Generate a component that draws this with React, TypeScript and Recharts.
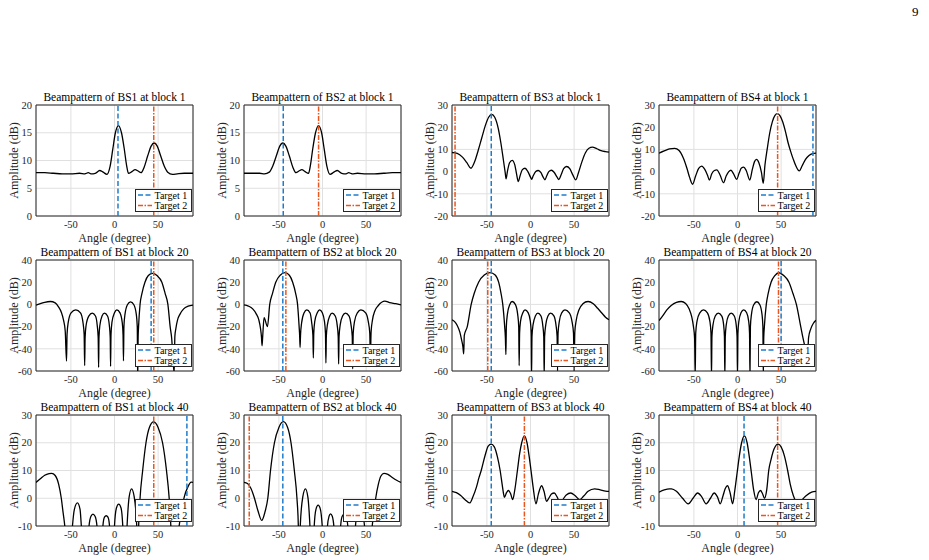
import {
  LineChart,
  Line,
  XAxis,
  YAxis,
  CartesianGrid,
  ReferenceLine,
  ReferenceArea,
  Label,
} from "recharts";

type Pt = [number, number];

const SERIF = '"Liberation Serif", "Times New Roman", serif';
const AXIS_COLOR = "#262626";
const TARGET1_COLOR = "#1f7ccb";
const TARGET2_COLOR = "#e9561f";

const angleTicks = [-50, 0, 50];
const ampTicksLow = [0, 5, 10, 15, 20];
const ampTicksWide = [-20, -10, 0, 10, 20, 30];
const ampTicksBlock20 = [-60, -40, -20, 0, 20, 40];
const ampTicksBlock40 = [-10, 0, 10, 20, 30];

// [angle (deg), amplitude (dB)]
const bs1Block1: Pt[] = [
  [-90, 7.8], [-80, 7.8], [-70, 7.7], [-60, 7.6], [-50, 7.6], [-40, 7.7], [-34, 7.6], [-30, 7.8],
  [-27, 7.6], [-22, 7.7], [-17, 8.2], [-13, 7.9], [-8.7, 7.5], [-5, 9], [-2, 12], [1, 15],
  [4.6, 16.3], [8, 15], [11, 12.3], [14, 9], [16, 7.7], [20, 8], [23.6, 8.35], [27, 8.1],
  [30.4, 7.8], [34, 8.8], [38, 10.8], [42, 12.6], [45.6, 13.15], [49, 12.6], [53, 10.8],
  [57, 9], [61, 7.9], [66.5, 7.5], [72, 7.6], [80, 7.7], [90, 7.7],
];
const bs2Block1: Pt[] = [
  [-90, 7.7], [-80, 7.7], [-72, 7.7], [-66.5, 7.6], [-61, 7.9], [-57, 9], [-53, 10.8], [-49, 12.6],
  [-45.6, 13.15], [-42, 12.6], [-38, 10.8], [-34, 8.8], [-30.4, 7.8], [-27, 8.1], [-23.6, 8.35],
  [-20, 8], [-16, 7.7], [-14, 9], [-11, 12.3], [-8, 15], [-4.6, 16.3], [-1, 15], [2, 12], [5, 9],
  [8.7, 7.5], [13, 7.9], [17, 8.2], [22, 7.7], [27, 7.6], [30, 7.8], [34, 7.6], [40, 7.7],
  [50, 7.6], [60, 7.6], [70, 7.7], [80, 7.8], [90, 7.8],
];
const bs3Block1: Pt[] = [
  [-90, 8.6], [-84, 8.2], [-78, 6.5], [-73, 4], [-68.3, 1.5], [-64, 4.5], [-60, 9.5], [-56, 15],
  [-52, 20.5], [-48, 24.5], [-44.5, 25.8], [-41, 24.5], [-37, 19.5], [-34, 13], [-31, 5],
  [-29, -0.5], [-28, -3.3], [-26.5, 0], [-24, 4], [-21, 5.1], [-18, 3], [-16, -1], [-14, -4.5],
  [-12, -2], [-9.5, 0.8], [-6.3, 1.5], [-3, 0], [0, -2.5], [1.3, -3.5], [3, -2], [6, 0],
  [9, 0.5], [12, -0.5], [14.5, -2.5], [16.5, -3.7], [18.5, -2], [21, 0], [24, 0.6], [27, -0.3],
  [30.5, -2.5], [32.5, -3.6], [35, -1.5], [38, 1.3], [41.3, 2.3], [45, 1.3], [48.5, -1.5],
  [51.9, -3.7], [55, -0.5], [59, 4.5], [63, 8.5], [67, 10.5], [71, 11], [76, 10.3], [81, 9.4],
  [86, 9], [90, 8.8],
];
const bs4Block1: Pt[] = [
  [-90, 8.3], [-84, 9.3], [-78, 10.2], [-72, 10.5], [-67, 9.5], [-62, 6], [-58, 1.5], [-55, -2.5],
  [-51.5, -5.7], [-48, -2], [-44.5, 1.5], [-41, 2.5], [-37.5, 1], [-34.5, -1.5], [-32.2, -3.8],
  [-29.5, -1], [-26.5, 0.5], [-23.7, 0.8], [-20, -1.5], [-16, -5], [-13, -2], [-10, 0],
  [-7.5, 0.6], [-4.5, -1], [-1, -3.5], [2, -0.5], [4.5, 1.6], [7.1, 2], [10, 0.5], [14.1, -3.8],
  [17, 1], [19.5, 4.5], [21.8, 5.5], [24.5, 4], [27.5, -0.5], [29.5, -5.3], [31.5, 3], [34, 10],
  [37, 17.5], [40, 22.5], [43, 25.3], [45.7, 26.1], [49, 25], [52, 22.2], [55, 18], [58, 13],
  [61, 9], [64, 5.5], [67, 2.5], [70.8, 0.3], [74, 2.5], [78, 5.5], [82, 7.3], [86, 8.1], [90, 8.3],
];

const bs1Block20: Pt[] = [
  [-90, -0.7], [-85, 0.6], [-80, 1.9], [-73.5, 2.6], [-68, 1.4], [-64, -2.5], [-61, -7],
  [-58.5, -14], [-56.5, -24], [-55, -51],
  [-54.4, -27], [-53, -16], [-49.8, -7.6], [-44.4, -4.9], [-39, -7.6], [-36.2, -16], [-34.8, -27], [-34.2, -55.2],
  [-33.7, -30], [-32.6, -19], [-29.5, -10.5], [-25.5, -7.9], [-21.8, -10.5], [-19.8, -19], [-18.7, -30], [-18.2, -56.7],
  [-17.8, -30], [-16.8, -19], [-14.3, -10.5], [-11.4, -7.9], [-8, -10.5], [-5.9, -19], [-4.9, -30], [-4.5, -55.8],
  [-4, -27], [-2.9, -16], [0, -7.6], [2.7, -4.9], [6.3, -7.6], [8.8, -16], [9.8, -27], [10.3, -50.8],
  [10.8, -20], [12, -9], [14.8, -0.3], [18.4, 2.3], [22.2, -0.3], [25, -9], [26.1, -20], [26.6, -70],
  [27.1, -30], [27.6, -20], [29.3, 0], [31.5, 10], [34.9, 20], [38.8, 26], [43.7, 28], [48.7, 26],
  [54.3, 20], [58, 10], [61.2, 0], [63.8, -20], [65.5, -30], [68.4, -62],
  [69.2, -29], [70.3, -22], [72.3, -14], [75.3, -8.5], [79.3, -4], [84.5, -1.6], [90, -0.7],
];
const bs2Block20: Pt[] = [
  [-90, -0.4], [-85, -1.5], [-80, -4], [-76, -8.5], [-73, -14], [-71, -22], [-70, -29], [-69.3, -37.3],
  [-68.5, -28], [-67, -12], [-63.1, -20], [-60.5, 0], [-57.3, 10], [-53.6, 20], [-48.5, 26.3],
  [-43, 28.6], [-38, 26.3], [-34.2, 20], [-30.8, 10], [-28.6, 0], [-26.8, -20], [-26.2, -28], [-25.7, -38.8],
  [-25.2, -28], [-24, -17], [-21.2, -7.7], [-18, -5], [-14.2, -7.7], [-12.3, -17], [-11, -28], [-10.5, -48.3],
  [-10, -26], [-8.8, -15], [-6, -7.6], [-3.3, -4.9], [-0.2, -7.6], [2.2, -15], [3.4, -26], [3.9, -52.8],
  [4.4, -29], [5.6, -18.5], [8.3, -10.5], [11.1, -7.9], [14.6, -10.5], [16.8, -18.5], [18, -29], [18.5, -53.7],
  [19, -29], [20.3, -18.5], [23, -10.5], [26.3, -7.9], [30.5, -10.5], [32.7, -18.5], [34.1, -29], [34.6, -58],
  [35.2, -26], [36.8, -15], [40, -7.6], [44, -4.9], [49.5, -7.6], [52.4, -15], [54.2, -26], [54.9, -50],
  [55.7, -25], [57.3, -14], [60, -6], [64, -1], [71.5, 2.9], [77, 1.6], [84, 0.6], [90, -0.4],
];
const bs3Block20: Pt[] = [
  [-90, -13.9], [-87, -15.5], [-84, -19], [-81, -25], [-79, -32], [-77.5, -38], [-76.6, -44.6],
  [-75.9, -28], [-72.5, -20], [-68, 0], [-64.5, 10], [-59.5, 20], [-53, 26.5], [-46.2, 28.6],
  [-40.5, 26.5], [-36.5, 20], [-33.8, 10], [-31.8, 0], [-29.6, -20], [-28.8, -30], [-28.2, -45.3],
  [-27.7, -20], [-26.5, -9], [-23.7, 0], [-21, 2.6], [-17.4, 0], [-14.7, -9], [-13.5, -20], [-13, -55.2],
  [-12.5, -26], [-11.4, -15], [-8.8, -7.6], [-6.3, -4.9], [-2.6, -7.6], [-0.2, -15], [0.8, -26], [1.2, -65],
  [1.7, -29], [2.9, -18.5], [5.6, -10.5], [8.5, -7.9], [12, -10.5], [14, -18.5], [15.2, -29], [15.7, -65],
  [16.2, -29], [17.5, -18.5], [20, -10.5], [23, -7.9], [27, -10.5], [29.2, -18.5], [30.5, -29], [31, -60],
  [31.6, -26], [33.1, -15], [35.8, -7.6], [39.5, -4.9], [44.5, -7.6], [47.5, -15], [49.3, -26], [50, -60],
  [50.8, -25], [52.5, -14], [55.5, -5], [60, 0.5], [66, 2.6], [72, 0.5], [77, -3.5], [82, -8],
  [86, -11.5], [90, -13.9],
];
const bs4Block20: Pt[] = [
  [-90, -14.6], [-86, -10.5], [-81, -5], [-76, -1], [-70, 1.8], [-64.5, 2.6], [-59.5, 0.8],
  [-55.5, -4], [-52.5, -11], [-50.5, -20], [-49.2, -30], [-48.5, -65],
  [-47.9, -26], [-46.4, -15], [-43.2, -7.6], [-39, -4.9], [-34.5, -7.6], [-31.7, -15], [-30.4, -26], [-29.8, -65],
  [-29.3, -29], [-28.1, -18.5], [-25.5, -10.5], [-22, -7.9], [-18, -10.5], [-15.9, -18.5], [-15, -29], [-14.5, -65],
  [-14, -29], [-12.9, -18.5], [-10.5, -10.5], [-7.2, -7.9], [-3.7, -10.5], [-1.5, -18.5], [-0.5, -29], [0, -65],
  [0.5, -26], [1.6, -15], [4, -7.6], [7.1, -4.9], [10.5, -7.6], [12.8, -15], [13.8, -26], [14.3, -65],
  [14.8, -20], [16, -9], [18.6, -0.3], [22.2, 2.4], [25.6, -0.3], [28.1, -9], [29.1, -20], [29.6, -65],
  [30.1, -30], [30.8, -20], [33, 0], [35.2, 10], [38.5, 20], [42.8, 26], [47.6, 28.5], [53, 26],
  [59, 20], [63.5, 10], [67.5, 0], [72.5, -20], [75, -30], [78, -40], [80.4, -45],
  [81.5, -30], [84, -22], [87, -17], [90, -14.3],
];

const bs1Block40: Pt[] = [
  [-90, 5.7], [-85, 7], [-80, 8.3], [-75, 8.9], [-72, 9], [-68, 8.2], [-64, 5], [-61, 0], [-59, -5],
  [-57, -10], [-55, -18], [-52.6, -35], [-50, -18], [-48.2, -10], [-46, -4], [-42.5, -1.7],
  [-39.5, -4], [-38, -10], [-35.5, -20], [-33, -35], [-30.5, -20], [-29.2, -10], [-27, -6.5],
  [-24.7, -5.7], [-22.3, -6.5], [-20.1, -10], [-18.5, -20], [-17.2, -35], [-15, -20], [-13.3, -10],
  [-11.5, -6.8], [-9.5, -6.3], [-7.5, -6.8], [-5.7, -10], [-4.2, -20], [-2.6, -35], [-1, -20],
  [0, -10], [2.2, -3.5], [4.8, -2.1], [7.5, -3.5], [9.5, -10], [10.8, -20], [11.8, -35], [13, -20],
  [14.4, -10], [16.8, 0.5], [19.6, 3.4], [22.6, 0.5], [25.5, -10], [26.1, -20], [26.6, -35],
  [27.1, -20], [27.7, -10], [29.3, 0], [32.3, 10], [36.1, 20], [40, 25.5], [44.8, 27.5], [50, 25.5],
  [55.1, 20], [59.6, 10], [62.7, 0], [64.6, -10], [66, -20], [67.5, -40], [69.5, -25], [72, -15],
  [74.1, -10], [77, -4], [80, 0.5], [84, 4], [88, 5.8], [90, 5.7],
];
const bs2Block40: Pt[] = [
  [-90, 5.7], [-86, 5.3], [-82, 3.5], [-78, 0], [-74, -4.5], [-69.7, -8], [-66, -5], [-62.7, 0],
  [-59.6, 10], [-55.1, 20], [-50, 25.5], [-44.9, 27.6], [-40, 25.5], [-36.1, 20], [-32.3, 10],
  [-29.3, 0], [-27.7, -10], [-27.1, -20], [-26.6, -35], [-26.1, -20], [-25.5, -10], [-22.6, 0.5],
  [-19.6, 3.4], [-16.8, 0.5], [-14.4, -10], [-13, -20], [-11.8, -35], [-10.8, -20], [-9.5, -10],
  [-7.5, -4], [-5, -2.5], [-2.4, -4], [-0.3, -10], [1.5, -20], [2.6, -35], [4, -20], [5.7, -10],
  [7.5, -6.5], [9.2, -5.6], [11.2, -6.5], [13, -10], [15, -20], [17.2, -35], [19.5, -20],
  [20.8, -10], [22.6, -6.5], [24.7, -5.8], [27, -6.5], [29, -10], [30.5, -20], [33, -35],
  [35.5, -20], [37.8, -10], [39.8, -4], [42.5, -1.7], [45.5, -4], [48.2, -10], [50, -18],
  [52.6, -35], [55, -18], [57, -10], [59, -5], [61, 0], [64, 5], [67, 8], [70.5, 9], [75, 8.6],
  [80, 7.5], [85, 6.5], [90, 5.7],
];
const bs3Block40: Pt[] = [
  [-90, 2.5], [-85, 2], [-80, 1], [-75, -0.5], [-69.8, -1.7], [-66, 0.5], [-62, 4], [-59, 7.5],
  [-56.5, 10], [-52, 15.5], [-48.5, 18.8], [-45.1, 19.5], [-41.5, 18.5], [-38, 15], [-34.8, 10],
  [-32.5, 5], [-30.5, 1], [-29.9, 0.3], [-27.5, 2], [-25.3, 2.8], [-23, 1.8], [-20.4, -0.5],
  [-18, 3], [-15, 10], [-12.5, 16], [-10.1, 20], [-7, 22.5], [-4, 20], [-1.5, 15], [0.6, 10],
  [3, 4], [6.3, -2], [9, 1.5], [12.7, 4.5], [15.5, 2.5], [18.4, -1.1], [21, 0], [24, 1.5],
  [27.2, 1.9], [30.5, 0.5], [33.7, -1.5], [37, -0.5], [41, 1.2], [46.2, 1.9], [51, 1],
  [56.5, -0.5], [61, 0.8], [66, 2.5], [73.6, 3.4], [80, 3], [86, 2.6], [90, 2.5],
];
const bs4Block40: Pt[] = [
  [-90, 2.2], [-84, 3], [-78, 3.4], [-75.7, 3.4], [-70, 2.5], [-63, 0], [-56.5, -2], [-51, 0],
  [-45.7, 1.9], [-41, 0.5], [-36, -2], [-31, 0], [-26.8, 1.9], [-23, 0.5], [-19.8, -2], [-16.5, 1],
  [-14, 3.5], [-11.4, 4.5], [-8.5, 2], [-5.6, -2], [-3, 3], [-0.5, 9], [2, 15], [4.7, 20], [8, 22.5],
  [11, 20], [13.5, 15], [16, 9], [18.5, 3], [21.4, -0.5], [24, 2], [26.4, 2.8], [28.5, 1.8],
  [31, 0], [33.5, 3], [35.8, 10], [38.5, 14], [42, 17.8], [46.5, 19.5], [50, 18.5], [54, 15],
  [57.5, 10], [60.5, 5], [64, 1], [68.8, -1.7], [74, -0.5], [79, 1], [85, 2.2], [90, 2.5],
];

// [Target 1, Target 2] directions (deg)
const bs1Block1Targets = [4, 45];
const bs2Block1Targets = [-45, -4.5];
const bs3Block1Targets = [-45, -86.5];
const bs4Block1Targets = [86.5, 46];
const bs1Block20Targets = [42, 45];
const bs2Block20Targets = [-45.5, -42];
const bs3Block20Targets = [-45, -49];
const bs4Block20Targets = [50, 47];
const bs1Block40Targets = [83, 45];
const bs2Block40Targets = [-45.5, -84];
const bs3Block40Targets = [-45, -7];
const bs4Block40Targets = [7.5, 46];

const panels = [
  { bs: "BS1", block: 1, curve: bs1Block1, targets: bs1Block1Targets, yTicks: ampTicksLow },
  { bs: "BS2", block: 1, curve: bs2Block1, targets: bs2Block1Targets, yTicks: ampTicksLow },
  { bs: "BS3", block: 1, curve: bs3Block1, targets: bs3Block1Targets, yTicks: ampTicksWide },
  { bs: "BS4", block: 1, curve: bs4Block1, targets: bs4Block1Targets, yTicks: ampTicksWide },
  { bs: "BS1", block: 20, curve: bs1Block20, targets: bs1Block20Targets, yTicks: ampTicksBlock20 },
  { bs: "BS2", block: 20, curve: bs2Block20, targets: bs2Block20Targets, yTicks: ampTicksBlock20 },
  { bs: "BS3", block: 20, curve: bs3Block20, targets: bs3Block20Targets, yTicks: ampTicksBlock20 },
  { bs: "BS4", block: 20, curve: bs4Block20, targets: bs4Block20Targets, yTicks: ampTicksBlock20 },
  { bs: "BS1", block: 40, curve: bs1Block40, targets: bs1Block40Targets, yTicks: ampTicksBlock40 },
  { bs: "BS2", block: 40, curve: bs2Block40, targets: bs2Block40Targets, yTicks: ampTicksBlock40 },
  { bs: "BS3", block: 40, curve: bs3Block40, targets: bs3Block40Targets, yTicks: ampTicksBlock40 },
  { bs: "BS4", block: 40, curve: bs4Block40, targets: bs4Block40Targets, yTicks: ampTicksBlock40 },
];

// plot-area placement on the page
const COL_LEFT = [36, 244, 452, 659];
const ROW_TOP = [105, 260, 415];
const PLOT_W = 157;
const PLOT_H = 111;
const Y_AXIS_W = 36;
const TOP_PAD = 25;
const X_AXIS_H = 30;

function TargetLegend({ left, top }: { left: number; top: number }) {
  return (
    <div
      style={{
        position: "absolute",
        left,
        top,
        width: 57,
        height: 23,
        background: "#fff",
        border: `1px solid ${AXIS_COLOR}`,
        boxSizing: "border-box",
      }}
    >
      <svg width={55} height={21} style={{ position: "absolute", left: 0, top: 0 }}>
        <line x1={2} x2={16} y1={5} y2={5} stroke={TARGET1_COLOR} strokeWidth={1.5} strokeDasharray="5 2.5" />
        <text x={18.5} y={8.5} fontSize={10} fontFamily={SERIF} fill="#000">Target 1</text>
        <line x1={2} x2={16} y1={15.5} y2={15.5} stroke={TARGET2_COLOR} strokeWidth={1.5} strokeDasharray="5 1.5 1.5 1.5" />
        <text x={18.5} y={19} fontSize={10} fontFamily={SERIF} fill="#000">Target 2</text>
      </svg>
    </div>
  );
}

function BeamPanel({
  title,
  curve,
  targets,
  yTicks,
  left,
  top,
}: {
  title: string;
  curve: Pt[];
  targets: number[];
  yTicks: number[];
  left: number;
  top: number;
}) {
  const data = curve.map(([angle, amp]) => ({ angle, amp }));
  const yMin = yTicks[0];
  const yMax = yTicks[yTicks.length - 1];
  const tickStyle = { fontSize: 10.5, fill: AXIS_COLOR, fontFamily: SERIF };

  return (
    <div style={{ position: "absolute", left: left - Y_AXIS_W, top: top - TOP_PAD }}>
      <div
        style={{
          position: "absolute",
          left: Y_AXIS_W - 20,
          top: 10,
          width: PLOT_W + 40,
          textAlign: "center",
          fontSize: 11.5,
          lineHeight: "14px",
          whiteSpace: "nowrap",
          color: "#000",
          fontFamily: SERIF,
        }}
      >
        {title}
      </div>
      <LineChart
        width={Y_AXIS_W + PLOT_W + 6}
        height={TOP_PAD + PLOT_H + X_AXIS_H}
        data={data}
        margin={{ top: TOP_PAD, right: 6, bottom: 0, left: 0 }}
        style={{ fontFamily: SERIF }}
      >
        <CartesianGrid stroke="#e0e0e0" strokeWidth={1} />
        <XAxis
          type="number"
          dataKey="angle"
          domain={[-90, 90]}
          ticks={angleTicks}
          allowDataOverflow
          height={X_AXIS_H}
          axisLine={false}
          tickLine={false}
          tickSize={3}
          tickMargin={2}
          tick={tickStyle}
        >
          <Label value="Angle (degree)" position="insideBottom" offset={4} fontSize={12} fill={AXIS_COLOR} fontFamily={SERIF} />
        </XAxis>
        <YAxis
          type="number"
          domain={[yMin, yMax]}
          ticks={yTicks}
          allowDataOverflow
          width={Y_AXIS_W}
          axisLine={false}
          tickLine={false}
          tickSize={3}
          tickMargin={1}
          tick={tickStyle}
        >
          <Label value="Amplitude (dB)" angle={-90} position="center" dx={-4.5} fontSize={12} fill={AXIS_COLOR} fontFamily={SERIF} />
        </YAxis>
        <Line
          dataKey="amp"
          type="monotone"
          stroke="#000"
          strokeWidth={1.3}
          dot={false}
          activeDot={false}
          isAnimationActive={false}
        />
        <ReferenceLine x={targets[0]} stroke={TARGET1_COLOR} strokeWidth={1.5} strokeDasharray="5 2.5" />
        <ReferenceLine x={targets[1]} stroke={TARGET2_COLOR} strokeWidth={1.5} strokeDasharray="5 1.5 1.5 1.5" />
        <ReferenceArea
          x1={-90}
          x2={90}
          y1={yMin}
          y2={yMax}
          fill="none"
          fillOpacity={0}
          stroke={AXIS_COLOR}
          strokeWidth={1}
          ifOverflow="visible"
        />
      </LineChart>
      <TargetLegend left={Y_AXIS_W + PLOT_W - 58} top={TOP_PAD + PLOT_H - 27} />
    </div>
  );
}

export default function App() {
  return (
    <div
      style={{
        position: "absolute",
        left: 0,
        top: 0,
        width: 929,
        height: 560,
        background: "#fff",
        fontFamily: SERIF,
        overflow: "hidden",
      }}
    >
      <div style={{ position: "absolute", left: 912, top: 4, fontSize: 13, color: "#000" }}>9</div>
      {panels.map((p, i) => (
        <BeamPanel
          key={`${p.bs}-${p.block}`}
          title={`Beampattern of ${p.bs} at block ${p.block}`}
          curve={p.curve}
          targets={p.targets}
          yTicks={p.yTicks}
          left={COL_LEFT[i % 4]}
          top={ROW_TOP[Math.floor(i / 4)]}
        />
      ))}
    </div>
  );
}
